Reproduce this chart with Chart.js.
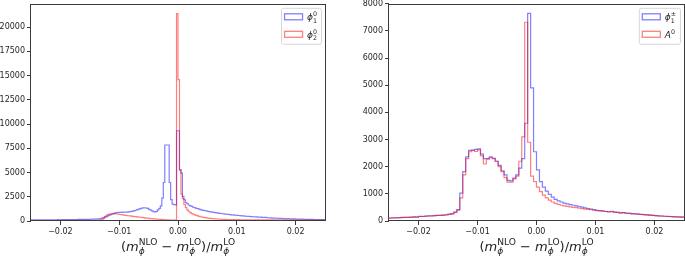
<!DOCTYPE html>
<html>
<head>
<meta charset="utf-8">
<script src="https://cdn.jsdelivr.net/npm/chart.js@4.4.0/dist/chart.umd.min.js"></script>
<style>
  html, body { margin: 0; padding: 0; background: #fff; overflow: hidden; }
  body { width: 685px; height: 257px; position: relative; }
  canvas { position: absolute; top: -3px; }
  #left { left: -20px; }
  #right { left: 345px; }
</style>
</head>
<body>
<canvas id="left" width="350" height="260" style="width:350px;height:260px"></canvas>
<canvas id="right" width="340" height="260" style="width:340px;height:260px"></canvas>
<script>
// histogram bins (left edges start here, equal width)
const leftBinStart = -0.025
const leftBinWidth = 0.00025
const rightBinStart = -0.025
const rightBinWidth = 0.0005

// left panel: phi_1^0 (blue) and phi_2^0 (red)
const leftPhi10 = [
  110, 108, 112, 110, 115, 113, 116, 118, 115, 120,
  118, 122, 125, 121, 126, 128, 125, 130, 132, 129,
  135, 138, 134, 140, 142, 139, 145, 148, 150, 146,
  152, 155, 158, 154, 160, 164, 168, 165, 172, 176,
  180, 185, 190, 196, 204, 214, 228, 250, 290, 340,
  400, 460, 530, 600, 660, 720, 790, 840, 870, 890,
  900, 895, 905, 900, 910, 920, 940, 960, 990, 1020,
  1060, 1110, 1170, 1230, 1280, 1320, 1350, 1360, 1340, 1300,
  1200, 1120, 1040, 970, 940, 1000, 1150, 1300, 1550, 2360,
  3970, 7840, 7840, 7840, 3970, 2200, 1750, 1680, 1650, 9310,
  9310, 5270, 4930, 2530, 2190, 1900, 1780, 1650, 1560, 1500,
  1420, 1370, 1310, 1270, 1220, 1180, 1130, 1100, 1070, 1030,
  1000, 975, 940, 910, 885, 860, 840, 815, 790, 775,
  750, 730, 710, 695, 675, 655, 640, 625, 605, 595,
  580, 565, 545, 535, 520, 505, 490, 480, 470, 460,
  450, 440, 430, 420, 405, 400, 390, 380, 375, 365,
  340, 335, 325, 318, 305, 300, 292, 285, 275, 270,
  265, 258, 250, 246, 240, 233, 226, 222, 218, 210,
  205, 201, 198, 190, 186, 182, 176, 175, 170, 165,
  165, 160, 157, 155, 150, 148, 146, 141, 138, 135
]
const leftPhi20 = [
  30, 32, 30, 35, 33, 36, 38, 35, 40, 38,
  40, 42, 45, 41, 44, 46, 45, 48, 50, 47,
  50, 52, 55, 51, 54, 56, 55, 58, 60, 57,
  60, 62, 64, 61, 65, 67, 66, 70, 72, 69,
  72, 74, 76, 73, 78, 80, 82, 90, 130, 280,
  450, 580, 660, 710, 740, 755, 760, 740, 720, 700,
  670, 650, 625, 600, 580, 560, 540, 520, 500, 480,
  460, 445, 425, 405, 385, 365, 345, 325, 305, 290,
  270, 255, 240, 225, 210, 195, 180, 170, 160, 150,
  140, 130, 120, 112, 105, 100, 95, 92, 95, 21380,
  14590, 5270, 2800, 2300, 1700, 1400, 1150, 980, 860, 770,
  700, 640, 580, 530, 480, 440, 405, 375, 345, 320,
  300, 280, 262, 246, 232, 220, 208, 198, 190, 182,
  175, 168, 162, 157, 152, 148, 144, 140, 137, 134,
  131, 132, 128, 127, 129, 125, 124, 126, 122, 121,
  123, 120, 119, 121, 118, 117, 119, 116, 115, 117,
  114, 115, 113, 112, 114, 112, 111, 113, 110, 110,
  112, 109, 110, 108, 109, 107, 108, 107, 106, 108,
  106, 105, 107, 105, 104, 106, 104, 103, 105, 103,
  102, 104, 102, 101, 103, 101, 100, 102, 100, 100
]

// right panel: phi_1^+- (blue) and A^0 (red)
const rightPhi1pm = [
  110, 120, 115, 125, 130, 135, 130, 140, 150, 145,
  170, 165, 180, 190, 185, 200, 210, 205, 220, 230,
  250, 270, 330, 420, 1025, 1815, 2365, 2600, 2610, 2640,
  2660, 2460, 2300, 2300, 2360, 2300, 2200, 2050, 1850, 1700,
  1500, 1480, 1580, 1700, 1950, 2300, 3600, 7650, 4900, 2550,
  1880, 1450, 1250, 1100, 980, 880, 800, 740, 700, 660,
  630, 600, 580, 555, 530, 510, 480, 460, 440, 420,
  390, 380, 370, 350, 340, 360, 330, 320, 300, 310,
  290, 280, 270, 265, 250, 245, 235, 225, 215, 210,
  195, 190, 185, 175, 170, 165, 160, 150, 150, 140
]
const rightA0 = [
  105, 115, 120, 120, 125, 130, 135, 135, 145, 150,
  165, 170, 175, 185, 190, 195, 205, 210, 215, 225,
  245, 265, 320, 400, 850, 1700, 2300, 2550, 2600, 2560,
  2620, 2400, 2100, 2280, 2330, 2320, 2200, 2000, 1820, 1600,
  1430, 1430, 1550, 1650, 2200, 3100, 7320, 2900, 1650, 1450,
  1250, 1080, 950, 850, 770, 700, 650, 610, 580, 560,
  540, 520, 500, 490, 470, 455, 440, 430, 415, 400,
  385, 370, 360, 350, 335, 345, 325, 315, 300, 305,
  285, 280, 265, 260, 250, 240, 235, 225, 215, 205,
  195, 185, 180, 175, 165, 160, 155, 150, 145, 140
]

const xTicks = [-0.02, -0.01, 0, 0.01, 0.02]
const xTickLabels = ['\u22120.02', '\u22120.01', '0.00', '0.01', '0.02']
const leftYTicks = [0, 2500, 5000, 7500, 10000, 12500, 15000, 17500, 20000]
const rightYTicks = [0, 1000, 2000, 3000, 4000, 5000, 6000, 7000, 8000]

const BLUE = 'rgba(0, 0, 255, 0.5)'
const RED = 'rgba(255, 0, 0, 0.5)'
const FONT = '"DejaVu Sans", "Liberation Sans", sans-serif'
const TEXT = '#262626'

// bin edges -> step line points
function steps(start, width, counts) {
  let pts = counts.map((c, i) => ({x: start + i * width, y: c}))
  pts.push({x: start + counts.length * width, y: counts[counts.length - 1]})
  return pts
}

// draws text like (m_phi^NLO) with stacked sub/superscripts
function mathWidth(ctx, parts, size) {
  let w = 0
  for (const p of parts) {
    ctx.font = (p.it ? 'italic ' : '') + size + 'px ' + FONT
    w += ctx.measureText(p.t).width
    let s = 0
    ctx.font = (p.subIt ? 'italic ' : '') + (size * 0.7) + 'px ' + FONT
    if (p.sub) s = Math.max(s, ctx.measureText(p.sub).width)
    ctx.font = (p.supIt ? 'italic ' : '') + (size * 0.7) + 'px ' + FONT
    if (p.sup) s = Math.max(s, ctx.measureText(p.sup).width)
    w += s
  }
  return w
}
function drawMath(ctx, parts, x, y, size, align) {
  let w = mathWidth(ctx, parts, size)
  if (align === 'center') x -= w / 2
  ctx.save()
  ctx.fillStyle = TEXT
  ctx.textAlign = 'left'
  ctx.textBaseline = 'alphabetic'
  for (const p of parts) {
    ctx.font = (p.it ? 'italic ' : '') + size + 'px ' + FONT
    ctx.fillText(p.t, x, y)
    x += ctx.measureText(p.t).width
    let s = 0
    if (p.sub) {
      ctx.font = (p.subIt ? 'italic ' : '') + (size * 0.7) + 'px ' + FONT
      ctx.fillText(p.sub, x, y + size * 0.28)
      s = Math.max(s, ctx.measureText(p.sub).width)
    }
    if (p.sup) {
      ctx.font = (p.supIt ? 'italic ' : '') + (size * 0.7) + 'px ' + FONT
      ctx.fillText(p.sup, x, y - size * 0.45)
      s = Math.max(s, ctx.measureText(p.sup).width)
    }
    x += s
  }
  ctx.restore()
}

const axisTitle = [
  {t: '(', it: false},
  {t: 'm', it: true, sub: '\u03d5', subIt: true, sup: 'NLO'},
  {t: ' \u2212 ', it: false},
  {t: 'm', it: true, sub: '\u03d5', subIt: true, sup: 'LO'},
  {t: ')/', it: false},
  {t: 'm', it: true, sub: '\u03d5', subIt: true, sup: 'LO'}
]

const framePlugin = {
  id: 'frame',
  afterDraw(chart, args, opts) {
    const ctx = chart.ctx
    const a = chart.chartArea
    ctx.save()
    ctx.strokeStyle = '#3a3a3a'
    ctx.lineWidth = 1
    ctx.strokeRect(Math.round(a.left) - 0.5, Math.round(a.top) + 0.5,
      Math.round(a.right - a.left) + 1, Math.round(a.bottom - a.top) - 1)
    ctx.restore()
    // x axis title
    drawMath(ctx, axisTitle, (a.left + a.right) / 2, a.bottom + 29.5, 13, 'center')
    // legend
    const items = opts.items
    const size = 9
    let lw = 0
    for (const it of items) lw = Math.max(lw, mathWidth(ctx, it.text, size))
    const bw = 3 + 18 + 5 + lw + 4
    const bh = 36
    const bx = a.right - 4 - bw
    const by = a.top + 4
    ctx.save()
    ctx.fillStyle = 'rgba(255,255,255,0.8)'
    ctx.strokeStyle = '#d6d6d6'
    ctx.lineWidth = 1
    ctx.beginPath()
    ctx.roundRect(bx + 0.5, by + 0.5, bw, bh, 2)
    ctx.fill()
    ctx.stroke()
    items.forEach((it, i) => {
      const cy = by + 9 + i * 17.5
      ctx.strokeStyle = it.color
      ctx.lineWidth = 1.3
      ctx.strokeRect(bx + 3.5, cy - 3, 18, 6)
      drawMath(ctx, it.text, bx + 3 + 18 + 5, cy + 3.5, size, 'left')
    })
    ctx.restore()
  }
}

function makeChart(id, start, width, blue, red, yMax, yTicks, yWidth, padRight, legendItems) {
  const tickFont = {family: FONT, size: 8}
  return new Chart(document.getElementById(id), {
    type: 'line',
    data: {
      datasets: [
        {data: steps(start, width, blue), borderColor: BLUE, borderWidth: 1.2,
          stepped: true, pointRadius: 0, fill: false, order: 1},
        {data: steps(start, width, red), borderColor: RED, borderWidth: 1.2,
          stepped: true, pointRadius: 0, fill: false, order: 0}
      ]
    },
    options: {
      responsive: false,
      animation: false,
      events: [],
      layout: {padding: {top: 6, right: padRight, left: 0, bottom: 0}},
      plugins: {
        legend: {display: false},
        tooltip: {enabled: false},
        frame: {items: legendItems}
      },
      scales: {
        x: {
          type: 'linear', min: -0.025, max: 0.025,
          afterBuildTicks: s => { s.ticks = xTicks.map(v => ({value: v})) },
          afterFit: s => { s.height = 36 },
          ticks: {callback: v => xTickLabels[xTicks.indexOf(v)], font: tickFont, color: TEXT,
            padding: 2, maxRotation: 0, autoSkip: false},
          grid: {display: true, drawOnChartArea: false, tickLength: 4, color: '#3a3a3a'},
          border: {display: false}
        },
        y: {
          type: 'linear', min: 0, max: yMax,
          afterBuildTicks: s => { s.ticks = yTicks.map(v => ({value: v})) },
          afterFit: s => { s.width = yWidth },
          ticks: {callback: v => String(v), font: tickFont, color: TEXT, padding: 2, autoSkip: false},
          grid: {display: true, drawOnChartArea: false, tickLength: 4, color: '#3a3a3a'},
          border: {display: false}
        }
      }
    },
    plugins: [framePlugin]
  })
}

makeChart('left', leftBinStart, leftBinWidth, leftPhi10, leftPhi20, 22400, leftYTicks, 51, 5, [
  {color: BLUE, text: [{t: '\u03d5', it: true, sub: '1', sup: '0'}]},
  {color: RED, text: [{t: '\u03d5', it: true, sub: '2', sup: '0'}]}
])
makeChart('right', rightBinStart, rightBinWidth, rightPhi1pm, rightA0, 8000, rightYTicks, 44, 1, [
  {color: BLUE, text: [{t: '\u03d5', it: true, sub: '1', sup: '\u00b1'}]},
  {color: RED, text: [{t: 'A', it: true, sup: '0'}]}
])
</script>
</body>
</html>
